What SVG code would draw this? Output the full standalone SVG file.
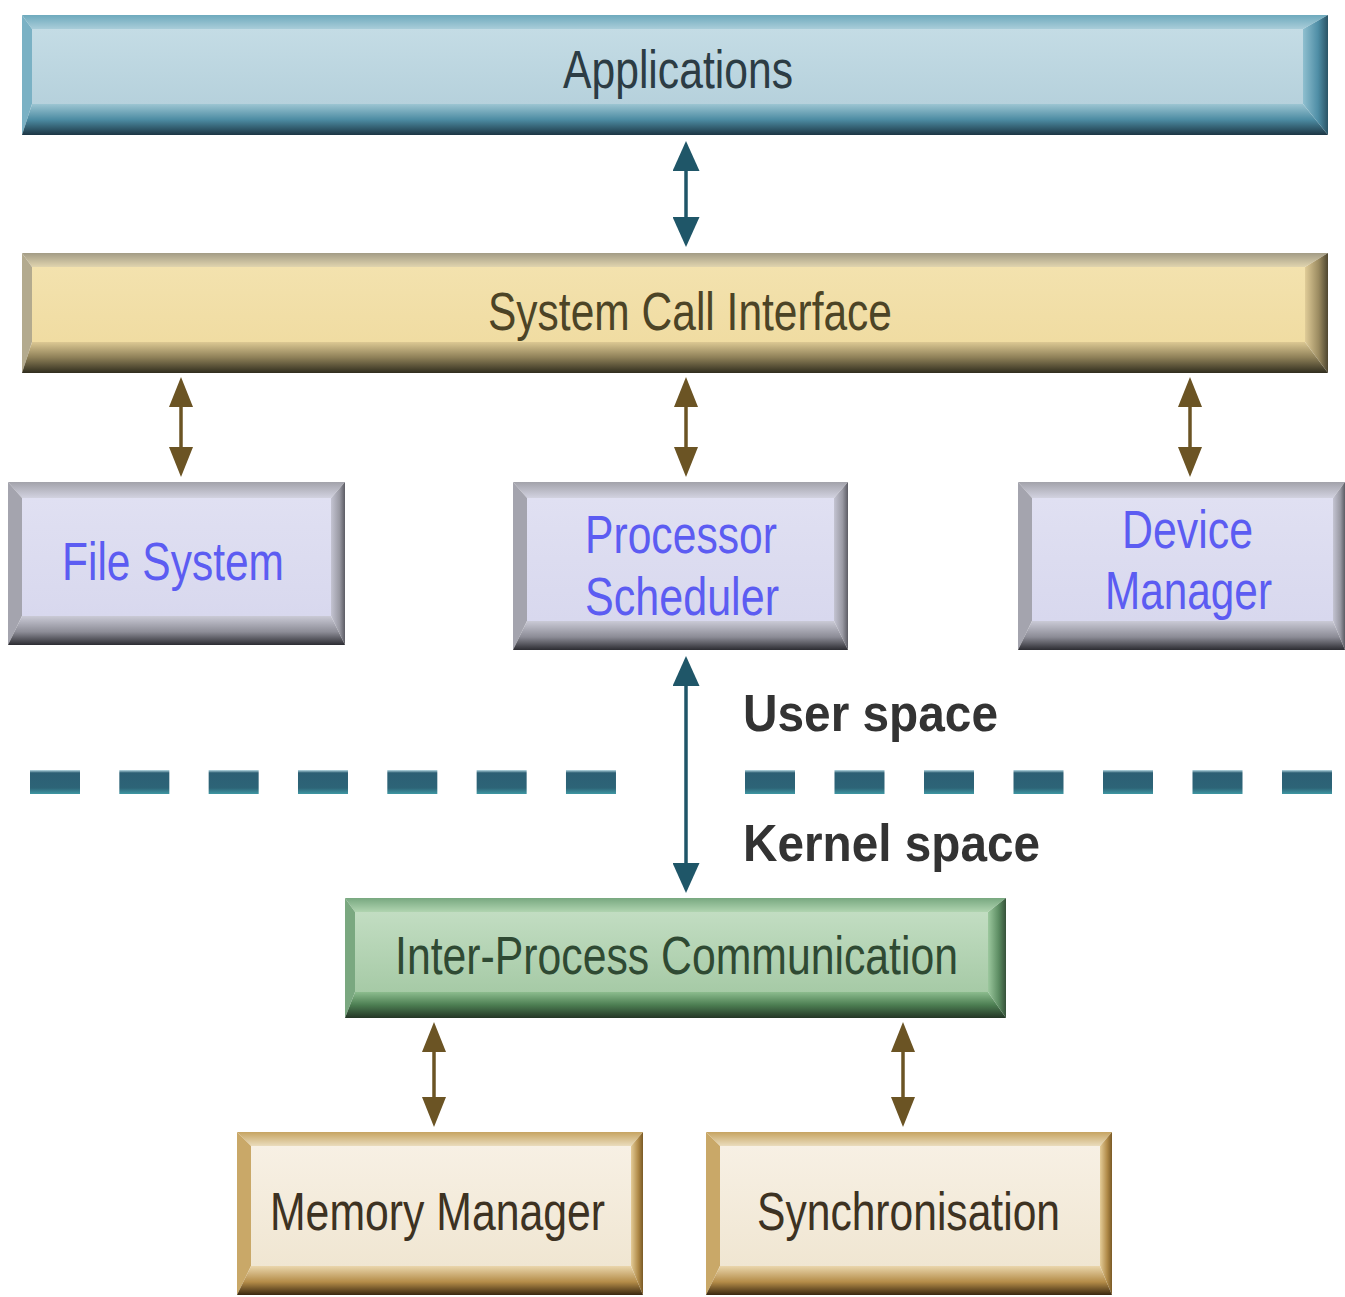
<svg xmlns="http://www.w3.org/2000/svg" width="1345" height="1297" viewBox="0 0 1345 1297">
<defs>
  <linearGradient id="blFace" x1="0" y1="0" x2="0" y2="1"><stop offset="0" stop-color="#c4dce5"/><stop offset="1" stop-color="#b6d1dc"/></linearGradient>
  <linearGradient id="blTop" x1="0" y1="0" x2="0" y2="1"><stop offset="0" stop-color="#6eaabd"/><stop offset="1" stop-color="#a9cdd9"/></linearGradient>
  <linearGradient id="blBot" x1="0" y1="0" x2="0" y2="1"><stop offset="0" stop-color="#9cc5d2"/><stop offset="0.5" stop-color="#4d8ca3"/><stop offset="1" stop-color="#1c3644"/></linearGradient>
  <linearGradient id="blRt" x1="0" y1="0" x2="1" y2="0"><stop offset="0" stop-color="#8fbfcf"/><stop offset="0.6" stop-color="#4f8ea6"/><stop offset="1" stop-color="#2a5466"/></linearGradient>
  <linearGradient id="bgFace" x1="0" y1="0" x2="0" y2="1"><stop offset="0" stop-color="#f3e2ae"/><stop offset="1" stop-color="#f0dca2"/></linearGradient>
  <linearGradient id="bgTop" x1="0" y1="0" x2="0" y2="1"><stop offset="0" stop-color="#a39c86"/><stop offset="1" stop-color="#e0d4ae"/></linearGradient>
  <linearGradient id="bgBot" x1="0" y1="0" x2="0" y2="1"><stop offset="0" stop-color="#dcc893"/><stop offset="0.5" stop-color="#8e8058"/><stop offset="1" stop-color="#302d1e"/></linearGradient>
  <linearGradient id="bgRt" x1="0" y1="0" x2="1" y2="0"><stop offset="0" stop-color="#e0cc98"/><stop offset="0.6" stop-color="#9a8a60"/><stop offset="1" stop-color="#4e4630"/></linearGradient>
  <linearGradient id="lvFace" x1="0" y1="0" x2="0" y2="1"><stop offset="0" stop-color="#e0e0f2"/><stop offset="1" stop-color="#d8d8ee"/></linearGradient>
  <linearGradient id="lvTop" x1="0" y1="0" x2="0" y2="1"><stop offset="0" stop-color="#a2a2aa"/><stop offset="1" stop-color="#d2d2e0"/></linearGradient>
  <linearGradient id="lvBot" x1="0" y1="0" x2="0" y2="1"><stop offset="0" stop-color="#cacad6"/><stop offset="0.55" stop-color="#8c8c96"/><stop offset="1" stop-color="#2c2c32"/></linearGradient>
  <linearGradient id="lvRt" x1="0" y1="0" x2="1" y2="0"><stop offset="0" stop-color="#c4c4d2"/><stop offset="0.6" stop-color="#9a9aa4"/><stop offset="1" stop-color="#5c5c64"/></linearGradient>
  <linearGradient id="grFace" x1="0" y1="0" x2="0" y2="1"><stop offset="0" stop-color="#c2ddc2"/><stop offset="1" stop-color="#a6caa6"/></linearGradient>
  <linearGradient id="grTop" x1="0" y1="0" x2="0" y2="1"><stop offset="0" stop-color="#78a880"/><stop offset="1" stop-color="#b0d4b0"/></linearGradient>
  <linearGradient id="grBot" x1="0" y1="0" x2="0" y2="1"><stop offset="0" stop-color="#8cbc8e"/><stop offset="0.5" stop-color="#4c7e52"/><stop offset="1" stop-color="#243626"/></linearGradient>
  <linearGradient id="grRt" x1="0" y1="0" x2="1" y2="0"><stop offset="0" stop-color="#9cc89e"/><stop offset="0.6" stop-color="#5c8c62"/><stop offset="1" stop-color="#36523a"/></linearGradient>
  <linearGradient id="crFace" x1="0" y1="0" x2="0" y2="1"><stop offset="0" stop-color="#f7f0e4"/><stop offset="1" stop-color="#f0e6d2"/></linearGradient>
  <linearGradient id="crTop" x1="0" y1="0" x2="0" y2="1"><stop offset="0" stop-color="#c6a462"/><stop offset="1" stop-color="#eadcbc"/></linearGradient>
  <linearGradient id="crBot" x1="0" y1="0" x2="0" y2="1"><stop offset="0" stop-color="#ead6ac"/><stop offset="0.55" stop-color="#b48c48"/><stop offset="1" stop-color="#3a2810"/></linearGradient>
  <linearGradient id="crRt" x1="0" y1="0" x2="1" y2="0"><stop offset="0" stop-color="#e4cc98"/><stop offset="0.6" stop-color="#b08a48"/><stop offset="1" stop-color="#7a5a26"/></linearGradient>
  <linearGradient id="dashG" gradientUnits="userSpaceOnUse" x1="0" y1="770" x2="0" y2="794"><stop offset="0" stop-color="#b9dbe4"/><stop offset="0.12" stop-color="#2c5f74"/><stop offset="0.75" stop-color="#2d6477"/><stop offset="1" stop-color="#3f97a3"/></linearGradient>
  <marker id="ahTeal" viewBox="0 0 30 27" refX="12" refY="13.5" markerWidth="30" markerHeight="27" markerUnits="userSpaceOnUse" orient="auto-start-reverse">
    <path d="M0,0 L30,13.5 L0,27 z" fill="#1f5668"/>
  </marker>
  <marker id="ahBrown" viewBox="0 0 30 24" refX="12" refY="12" markerWidth="30" markerHeight="24" markerUnits="userSpaceOnUse" orient="auto-start-reverse">
    <path d="M0,0 L30,12 L0,24 z" fill="#6b5424"/>
  </marker>
</defs>
<style>
  .lbl { font-family: "Liberation Sans", Arial, sans-serif; font-size: 53px; }
  .bold { font-family: "Liberation Sans", Arial, sans-serif; font-size: 52px; font-weight: bold; fill: #333333; }
  .tApp { fill: #2c3c44; }
  .tSci { fill: #4c4426; }
  .tBlue { fill: #5c5cf2; }
  .tIpc { fill: #2f4a33; }
  .tCr { fill: #3d3222; }
  .blL { fill: #7ab1c4; } .blR { fill: url(#blRt); }
  .bgL { fill: #b3aa8e; } .bgR { fill: url(#bgRt); }
  .lvL { fill: #a4a4ae; } .lvR { fill: url(#lvRt); }
  .grL { fill: #7aa880; } .grR { fill: url(#grRt); }
  .crL { fill: #c9a868; } .crR { fill: url(#crRt); }
  .cTeal { stroke: #1f5668; stroke-width: 3.5; fill: none; marker-start: url(#ahTeal); marker-end: url(#ahTeal); }
  .cBrown { stroke: #6b5424; stroke-width: 3.5; fill: none; marker-start: url(#ahBrown); marker-end: url(#ahBrown); }
  .sep { stroke: url(#dashG); stroke-width: 24; fill: none; }
</style>
<rect width="1345" height="1297" fill="#ffffff"/>

<!-- Applications: 22..1328 x 15..135 -->
<g id="applications">
  <polygon points="22,15 1328,15 1303,29 32,29" fill="url(#blTop)"/>
  <polygon points="22,15 32,29 32,104 22,135" class="blL"/>
  <polygon points="1328,15 1328,135 1303,104 1303,29" class="blR"/>
  <polygon points="22,135 32,104 1303,104 1328,135" fill="url(#blBot)"/>
  <rect x="32" y="29" width="1271" height="75" fill="url(#blFace)"/>
  <text x="563" y="88" class="lbl tApp" textLength="230" lengthAdjust="spacingAndGlyphs">Applications</text>
</g>

<!-- System Call Interface: 22..1328 x 253..373 -->
<g id="system-call-interface">
  <polygon points="22,253 1328,253 1305,267 32,267" fill="url(#bgTop)"/>
  <polygon points="22,253 32,267 32,342 22,373" class="bgL"/>
  <polygon points="1328,253 1328,373 1305,342 1305,267" class="bgR"/>
  <polygon points="22,373 32,342 1305,342 1328,373" fill="url(#bgBot)"/>
  <rect x="32" y="267" width="1273" height="75" fill="url(#bgFace)"/>
  <text x="488" y="330" class="lbl tSci" textLength="404" lengthAdjust="spacingAndGlyphs">System Call Interface</text>
</g>

<!-- File System: 8..345 x 482..645 -->
<g id="file-system">
  <polygon points="8,482 345,482 331,498 22,498" fill="url(#lvTop)"/>
  <polygon points="8,482 22,498 22,616 8,645" class="lvL"/>
  <polygon points="345,482 345,645 331,616 331,498" class="lvR"/>
  <polygon points="8,645 22,616 331,616 345,645" fill="url(#lvBot)"/>
  <rect x="22" y="498" width="309" height="118" fill="url(#lvFace)"/>
  <text x="62" y="580" class="lbl tBlue" textLength="222" lengthAdjust="spacingAndGlyphs">File System</text>
</g>

<!-- Processor Scheduler: 513..848 x 482..650 -->
<g id="processor-scheduler">
  <polygon points="513,482 848,482 834,498 527,498" fill="url(#lvTop)"/>
  <polygon points="513,482 527,498 527,621 513,650" class="lvL"/>
  <polygon points="848,482 848,650 834,621 834,498" class="lvR"/>
  <polygon points="513,650 527,621 834,621 848,650" fill="url(#lvBot)"/>
  <rect x="527" y="498" width="307" height="123" fill="url(#lvFace)"/>
  <text x="585" y="553" class="lbl tBlue" textLength="192" lengthAdjust="spacingAndGlyphs">Processor</text>
  <text x="585" y="615" class="lbl tBlue" textLength="194" lengthAdjust="spacingAndGlyphs">Scheduler</text>
</g>

<!-- Device Manager: 1018..1345 x 482..650 -->
<g id="device-manager">
  <polygon points="1018,482 1345,482 1333,498 1032,498" fill="url(#lvTop)"/>
  <polygon points="1018,482 1032,498 1032,621 1018,650" class="lvL"/>
  <polygon points="1345,482 1345,650 1333,621 1333,498" class="lvR"/>
  <polygon points="1018,650 1032,621 1333,621 1345,650" fill="url(#lvBot)"/>
  <rect x="1032" y="498" width="301" height="123" fill="url(#lvFace)"/>
  <text x="1122" y="548" class="lbl tBlue" textLength="131" lengthAdjust="spacingAndGlyphs">Device</text>
  <text x="1105" y="609" class="lbl tBlue" textLength="167" lengthAdjust="spacingAndGlyphs">Manager</text>
</g>

<!-- Inter-Process Communication: 345..1006 x 898..1018 -->
<g id="inter-process-communication">
  <polygon points="345,898 1006,898 988,912 355,912" fill="url(#grTop)"/>
  <polygon points="345,898 355,912 355,992 345,1018" class="grL"/>
  <polygon points="1006,898 1006,1018 988,992 988,912" class="grR"/>
  <polygon points="345,1018 355,992 988,992 1006,1018" fill="url(#grBot)"/>
  <rect x="355" y="912" width="633" height="80" fill="url(#grFace)"/>
  <text x="395" y="974" class="lbl tIpc" textLength="563" lengthAdjust="spacingAndGlyphs">Inter-Process Communication</text>
</g>

<!-- Memory Manager: 237..643 x 1132..1295 -->
<g id="memory-manager">
  <polygon points="237,1132 643,1132 631,1146 251,1146" fill="url(#crTop)"/>
  <polygon points="237,1132 251,1146 251,1266 237,1295" class="crL"/>
  <polygon points="643,1132 643,1295 631,1266 631,1146" class="crR"/>
  <polygon points="237,1295 251,1266 631,1266 643,1295" fill="url(#crBot)"/>
  <rect x="251" y="1146" width="380" height="120" fill="url(#crFace)"/>
  <text x="270" y="1230" class="lbl tCr" textLength="335" lengthAdjust="spacingAndGlyphs">Memory Manager</text>
</g>

<!-- Synchronisation: 706..1112 x 1132..1295 -->
<g id="synchronisation">
  <polygon points="706,1132 1112,1132 1100,1146 720,1146" fill="url(#crTop)"/>
  <polygon points="706,1132 720,1146 720,1266 706,1295" class="crL"/>
  <polygon points="1112,1132 1112,1295 1100,1266 1100,1146" class="crR"/>
  <polygon points="706,1295 720,1266 1100,1266 1112,1295" fill="url(#crBot)"/>
  <rect x="720" y="1146" width="380" height="120" fill="url(#crFace)"/>
  <text x="757" y="1230" class="lbl tCr" textLength="303" lengthAdjust="spacingAndGlyphs">Synchronisation</text>
</g>

<!-- User / Kernel boundary -->
<g id="boundary">
  <line x1="30" y1="782" x2="616" y2="782" class="sep" stroke-dasharray="50 39.33"/>
  <line x1="745" y1="782" x2="1332" y2="782" class="sep" stroke-dasharray="50 39.5"/>
  <text x="743" y="731" class="bold" textLength="255" lengthAdjust="spacingAndGlyphs">User space</text>
  <text x="743" y="861" class="bold" textLength="297" lengthAdjust="spacingAndGlyphs">Kernel space</text>
</g>

<g id="connectors">
  <line x1="686" y1="159" x2="686" y2="229" class="cTeal"/>
  <line x1="686" y1="674" x2="686" y2="875" class="cTeal"/>
  <line x1="181" y1="395" x2="181" y2="459" class="cBrown"/>
  <line x1="686" y1="395" x2="686" y2="459" class="cBrown"/>
  <line x1="1190" y1="395" x2="1190" y2="459" class="cBrown"/>
  <line x1="434" y1="1040" x2="434" y2="1109" class="cBrown"/>
  <line x1="903" y1="1040" x2="903" y2="1109" class="cBrown"/>
</g>
</svg>
